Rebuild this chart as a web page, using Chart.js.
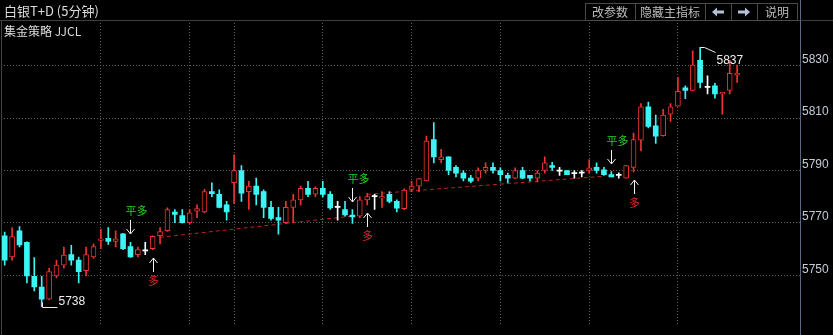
<!DOCTYPE html>
<html><head><meta charset="utf-8">
<script src="https://cdn.jsdelivr.net/npm/chart.js@4/dist/chart.umd.min.js"></script>
<style>html,body{margin:0;padding:0;background:#000;overflow:hidden}canvas{display:block}</style>
</head><body>
<canvas id="c" width="833" height="335"></canvas>
<script>
// ---------- data ----------
const title = '白银T+D (5分钟)';
const subtitle = '集金策略 JJCL';
const buttonLabels = ['改参数', '隐藏主指标', '', '', '说明'];
const slotCount = 108;
const opens  = [5765.1,5757,5767,5762.6,5749.6,5745.5,5740.9,5749.8,5753.9,5757.9,
                5755.8,5751.8,5757,5763.3,5764.1,5762.9,5765.8,5761,5757.9,5759.3,
                5760.2,5765.1,5767,5774.1,5772.8,5770.1,5774.5,5774.2,5781.9,5780.9,
                5776.9,5785.3,5790,5781.9,5784,5781.9,5775.9,5772,5770.1,5775.9,
                5778.8,5783.2,5781,5783.2,5780.9,5775.9,5775.1,5773,5772.6,5778.8,
                5780,5779.5,5780.9,5778.2,5775.4,5782.8,5784,5786,5801.8,5794.1,
                5795.2,5791.2,5789,5787.1,5787.1,5790,5791.2,5790,5788.1,5787.1,
                5790,5788.1,5787.1,5790,5791.9,5789.75,5790,5788.8,5789,5790,
                5791.2,5790.25,5788.4,5788.1,5787.1,5791.2,5801.6,5814.25,5807,5803.3,
                5811.5,5814.5,5821.5,5820.5,5832,5821.7,5822.3,5819.2,5820.5,5826.4];
const highs  = [5766.5,5768.2,5768.6,5762.8,5756.8,5749.6,5752.7,5755.8,5760.8,5761.4,
                5757,5760.8,5762,5767.6,5768.2,5767,5766,5762.6,5760.8,5762.6,
                5765.1,5768.2,5775.7,5775.1,5775.1,5775.1,5776.9,5782.8,5785.3,5782.6,
                5778.2,5796,5791.9,5785.9,5787.1,5782.6,5778.2,5775.9,5778.2,5780.9,
                5784,5785.9,5783.8,5785.9,5781.9,5778.2,5778.2,5775.1,5780,5781.3,
                5780.9,5781.9,5781.9,5778.8,5783,5785.9,5786.9,5803.1,5808.3,5798.1,
                5795.2,5791.9,5790,5788.1,5791,5792.9,5792.9,5791,5789,5791,
                5791.2,5788.1,5790,5795.2,5793.1,5791.2,5790,5790,5790,5794.1,
                5792.9,5791.2,5789.6,5789.1,5792,5804.3,5815.5,5816.1,5811.1,5813.3,
                5815.5,5825.4,5822.3,5835.6,5837,5826.1,5823.2,5819.85,5832,5830.2];
const lows   = [5753.9,5755.8,5760.8,5747.1,5744,5738,5740.6,5749,5752.7,5753.9,
                5747.1,5749.8,5756.4,5760.2,5761.8,5760.8,5759.8,5756.8,5757,5757.9,
                5759.8,5762,5766.7,5770.1,5769.9,5769.7,5772,5773.8,5780,5775.7,
                5771,5777.3,5778.2,5775.1,5776.9,5772,5771,5765.7,5769.8,5770.1,
                5776.9,5780,5780,5779.9,5775.1,5771,5772.6,5769.8,5772,5776.9,
                5775.1,5775.9,5777.6,5774.2,5775,5781.9,5781.9,5786,5792.9,5792.9,
                5788.4,5787.5,5786,5785.3,5786,5789,5789,5786,5785.3,5786.9,
                5786.9,5786,5785.65,5789,5790,5788.1,5788.4,5787.1,5787.5,5789,
                5789,5788.1,5787.5,5787.1,5787.1,5789.4,5797.5,5806.2,5800.3,5803.1,
                5808.7,5814.5,5817.4,5820.5,5821.5,5819.2,5817.6,5811.5,5819.2,5823.6];
const closes = [5755.8,5764.8,5761.6,5749.8,5745.6,5740.9,5751.4,5753.9,5757.7,5755.8,
                5751.4,5757.9,5761,5763.9,5762.9,5763.9,5760.2,5757,5759.8,5759.3,
                5764.9,5766.7,5775.1,5773.2,5770.1,5773.8,5775.5,5781.9,5781.1,5775.9,
                5774.2,5790,5781.3,5784,5780.9,5775.9,5771.7,5771,5775.9,5778.8,
                5783.2,5780.9,5783.2,5780.9,5775.7,5775.9,5773,5772.3,5778.8,5780,
                5780,5780,5778.2,5775.6,5782.5,5784,5786.9,5801.2,5795.2,5795.2,
                5790,5789,5787.1,5785.9,5790,5791.2,5790,5788.4,5787.1,5790,
                5787.1,5787.1,5789,5792.9,5791.2,5789.75,5788.4,5788.8,5789,5791,
                5790,5788.4,5787.5,5788.1,5791.9,5801.8,5814.25,5806.8,5803.1,5811.1,
                5814.25,5820.2,5820.5,5830.2,5823.6,5821.7,5819.2,5819.85,5827.1,5827.1];
const yTicks = [5750, 5770, 5790, 5810, 5830];
const gridCandles = [14, 26, 32, 44, 56, 68, 80, 92];   // 1-based candle numbers
const flatLongAt = [18, 48, 83];                        // 平多 signals
const longAt = [21, 50, 86];                            // 多 signals
const stopLine1 = [[22, 5764.5], [48, 5772.6]];
const stopLine2 = [[50, 5780.9], [82, 5787.8]];
const lowMark = [6, 5738];
const highMark = [95, 5837];

// ---------- styles ----------
const UP = '#f03232', DOWN = '#3cf4f4', FLAT = '#ffffff';
const GRID = '#5e5e5e';

const n = opens.length;
const labels = Array.from({length: slotCount}, (_, i) => String(i + 1));
const kind = opens.map((o, i) => closes[i] > o ? 'up' : (closes[i] < o ? 'down' : 'flat'));
const col = {up: UP, down: DOWN, flat: FLAT};
const wickData = lows.map((l, i) => [l, highs[i]]);
const bodyData = opens.map((o, i) => [Math.min(o, closes[i]), Math.max(o, closes[i])]);
function lineData(seg) { const a = new Array(n).fill(null); seg.forEach(([c, v]) => { a[c - 1] = v; }); return a; }
const gridSet = new Set(gridCandles.map(c => c - 1));

function drawArrow(ctx, x, tip, dir) { // dir 1 = down arrow, -1 = up arrow
  ctx.beginPath();
  ctx.moveTo(x, tip - dir * 14); ctx.lineTo(x, tip);
  ctx.moveTo(x - 4, tip - dir * 5); ctx.lineTo(x, tip); ctx.lineTo(x + 4, tip - dir * 5);
  ctx.stroke();
}

const decor = {
  id: 'decor',
  beforeDraw(chart) {
    const c = chart.ctx;
    c.save(); c.fillStyle = '#000'; c.fillRect(0, 0, chart.width, chart.height); c.restore();
  },
  afterDraw(chart) {
    const c = chart.ctx, xs = chart.scales.x, ys = chart.scales.y, a = chart.chartArea;
    c.save();
    c.strokeStyle = '#3e3e3e'; c.lineWidth = 1;
    c.beginPath(); c.moveTo(0, 20.5); c.lineTo(chart.width, 20.5); c.stroke();
    c.strokeStyle = '#444';
    c.beginPath(); c.moveTo(1.5, 21); c.lineTo(1.5, chart.height); c.stroke();
    c.strokeStyle = '#5b6680';
    c.beginPath(); c.moveTo(Math.round(a.right) + 0.5, 0); c.lineTo(Math.round(a.right) + 0.5, chart.height); c.stroke();
    c.fillStyle = '#dcdcdc'; c.textBaseline = 'middle'; c.textAlign = 'left';
    c.font = '13px "Noto Sans CJK SC"';
    c.fillText(title, 4, 11);
    c.font = '12px "Noto Sans CJK SC"';
    c.fillText(subtitle, 4, 31);
    const edges = [585, 635, 705, 731, 757, 797];
    c.strokeStyle = '#4a4a4a';
    for (let i = 0; i < buttonLabels.length; i++) {
      const x0 = edges[i], x1 = edges[i + 1];
      c.strokeRect(x0 + 0.5, 3.5, x1 - x0, 17);
      c.fillStyle = '#bdbdbd'; c.textAlign = 'center'; c.font = '12px "Noto Sans CJK SC"';
      if (buttonLabels[i]) c.fillText(buttonLabels[i], (x0 + x1) / 2, 12);
    }
    c.fillStyle = '#b4c2d8';
    const ar = (cx, d) => {
      c.beginPath();
      c.moveTo(cx - 6 * d, 12); c.lineTo(cx - 1 * d, 7.5); c.lineTo(cx - 1 * d, 10.5);
      c.lineTo(cx + 6 * d, 10.5); c.lineTo(cx + 6 * d, 13.5); c.lineTo(cx - 1 * d, 13.5);
      c.lineTo(cx - 1 * d, 16.5); c.closePath(); c.fill();
    };
    ar(718, 1); ar(744, -1);

    c.strokeStyle = '#f2f2f2'; c.lineWidth = 1;
    c.font = '11px "Noto Sans CJK SC"'; c.textAlign = 'center'; c.textBaseline = 'middle';
    flatLongAt.forEach(k => {
      const x = Math.round(xs.getPixelForValue(k - 1)) + 0.5;
      const tip = Math.round(ys.getPixelForValue(highs[k - 1])) - 8;
      drawArrow(c, x, tip, 1);
      c.fillStyle = '#22d022'; c.fillText('平多', x + 6, tip - 23);
    });
    longAt.forEach(k => {
      const x = Math.round(xs.getPixelForValue(k - 1)) + 0.5;
      const tip = Math.round(ys.getPixelForValue(lows[k - 1])) + 8;
      drawArrow(c, x, tip, -1);
      c.fillStyle = '#e02828'; c.fillText('多', x, tip + 23);
    });

    c.strokeStyle = '#eeeeee'; c.fillStyle = '#eeeeee';
    c.font = '12px "Liberation Sans"'; c.textAlign = 'left';
    {
      const x = Math.round(xs.getPixelForValue(lowMark[0] - 1)) + 0.5;
      const y = Math.round(ys.getPixelForValue(lowMark[1])) + 0.5;
      c.beginPath(); c.moveTo(x, y - 5); c.lineTo(x, y); c.lineTo(x + 15, y); c.stroke();
      c.textBaseline = 'alphabetic'; c.fillText(String(lowMark[1]), x + 16, y - 3);
    }
    {
      const x = Math.round(xs.getPixelForValue(highMark[0] - 1)) + 0.5;
      const y = Math.round(ys.getPixelForValue(highMark[1])) + 0.5;
      c.beginPath(); c.moveTo(x, y); c.lineTo(x + 4, y); c.lineTo(x + 15, y + 5); c.stroke();
      c.textBaseline = 'top'; c.fillText(String(highMark[1]), x + 16, y + 7);
    }
    c.restore();
  }
};

new Chart(document.getElementById('c'), {
  type: 'bar',
  data: {
    labels,
    datasets: [
      {type: 'line', data: lineData(stopLine1), borderColor: '#b82424', borderWidth: 1, borderDash: [4, 3],
       pointRadius: 0, spanGaps: true, order: 5},
      {type: 'line', data: lineData(stopLine2), borderColor: '#b82424', borderWidth: 1, borderDash: [4, 3],
       pointRadius: 0, spanGaps: true, order: 5},
      {data: bodyData, backgroundColor: kind.map(k => k === 'up' ? '#000' : col[k]),
       borderColor: kind.map(k => col[k]), borderWidth: kind.map(k => k === 'up' ? 1 : 0),
       borderSkipped: false, barThickness: 5, minBarLength: 1, grouped: false, order: 1},
      {data: wickData, backgroundColor: kind.map(k => col[k]), barThickness: 1, grouped: false, order: 2}
    ]
  },
  options: {
    responsive: false, animation: false, devicePixelRatio: 1,
    layout: {padding: {top: 20, left: 1, right: 0, bottom: 0}},
    plugins: {legend: {display: false}, tooltip: {enabled: false}},
    scales: {
      x: {
        type: 'category', offset: true,
        ticks: {display: false},
        grid: {offset: false, drawTicks: false, lineWidth: 1,
               color: c => gridSet.has(c.index) ? GRID : 'rgba(0,0,0,0)'},
        border: {display: false, dash: [1, 2]},
        afterFit: s => { s.height = 0; }
      },
      y: {
        position: 'right', min: 5730.74, max: 5847.4,
        afterBuildTicks: s => { s.ticks = yTicks.map(v => ({value: v})); },
        afterFit: s => { s.width = 33; },
        ticks: {color: '#c4ccd8', font: {family: 'Liberation Sans', size: 12}, padding: 2, labelOffset: -6,
                callback: v => String(v)},
        grid: {color: GRID, drawTicks: false, lineWidth: 1},
        border: {display: false, dash: [1, 2]}
      }
    }
  },
  plugins: [decor]
});
</script>
</body></html>
